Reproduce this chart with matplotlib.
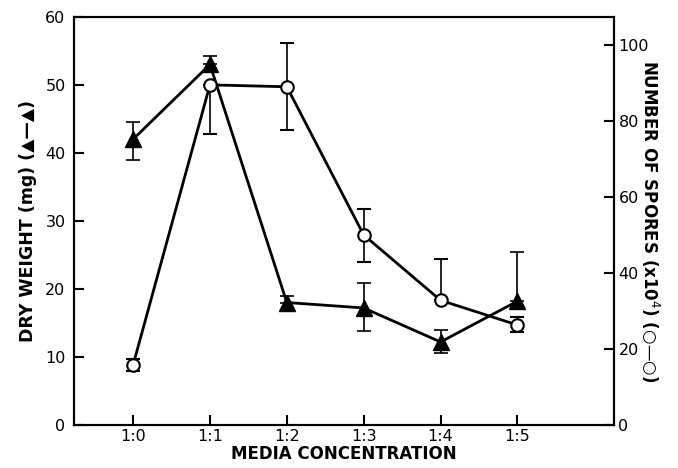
import numpy as np
import matplotlib
matplotlib.use("Agg")
import matplotlib.pyplot as plt

## data
conc = ["1:0", "1:1", "1:2", "1:3", "1:4", "1:5"]
dry_weight = [42, 53, 18, 17.2, 12.2, 18.2]           # mg, triangles (left axis)
dry_lo = [3.0, 0.0, 0.0, 3.4, 1.6, 0.0]
dry_hi = [2.6, 1.3, 1.0, 3.6, 1.8, 7.3]
spores = [15.8, 89.5, 89, 50, 32.8, 26.3]              # x10^4, circles (right axis)
spo_lo = [1.5, 12.8, 11.5, 7.0, 0.0, 1.8]
spo_hi = [1.5, 0.0, 11.5, 6.8, 10.8, 2.2]

x = np.arange(len(conc))

plt.rcParams['font.family'] = ['DejaVu Sans']
fig = plt.figure(figsize=(6.78, 4.68), dpi=100)
ax = fig.add_axes([0.109, 0.092, 0.797, 0.872])
ax2 = ax.twinx()

## spores (circles)
ax2.errorbar(x, spores, yerr=[spo_lo, spo_hi], color='black', lw=2, capsize=5,
             elinewidth=1.2, capthick=1.2, marker='o', ms=9, mfc='white',
             mec='black', mew=1.5, zorder=3)

## dry weight (triangles)
ax.errorbar(x, dry_weight, yerr=[dry_lo, dry_hi], color='black', lw=2, capsize=5,
            elinewidth=1.2, capthick=1.2, marker='^', ms=11, mfc='black',
            mec='black', zorder=3)

ax.set_xlim(-0.77, 6.26)
ax.set_ylim(0, 60)
ax2.set_ylim(0, 107.4)
ax.set_xticks(x)
ax.set_xticklabels(conc)
ax.set_yticks(np.arange(0, 61, 10))
ax2.set_yticks(np.arange(0, 101, 20))

ax.tick_params(axis='x', direction='in', length=7, width=1.5, labelsize=11.5, pad=3)
ax.tick_params(axis='y', direction='in', length=7, width=1.5, labelsize=11.5, pad=6)
ax2.tick_params(axis='y', direction='in', length=7, width=1.5, labelsize=11.5, pad=3)
for a in (ax, ax2):
    for s in a.spines.values():
        s.set_linewidth(1.5)

ax.set_xlabel("MEDIA CONCENTRATION", fontsize=12, fontweight='bold', labelpad=1)
ax.set_ylabel("DRY WEIGHT (mg) (\u25B2\u2014\u25B2)", fontsize=12.5, fontweight='bold', labelpad=6)
ax2.set_ylabel("NUMBER OF SPORES (x10$^4$) (\u25CB\u2014\u25CB)", fontsize=12,
               fontweight='bold', rotation=-90, labelpad=9)

fig.savefig("out.png", dpi=100)
